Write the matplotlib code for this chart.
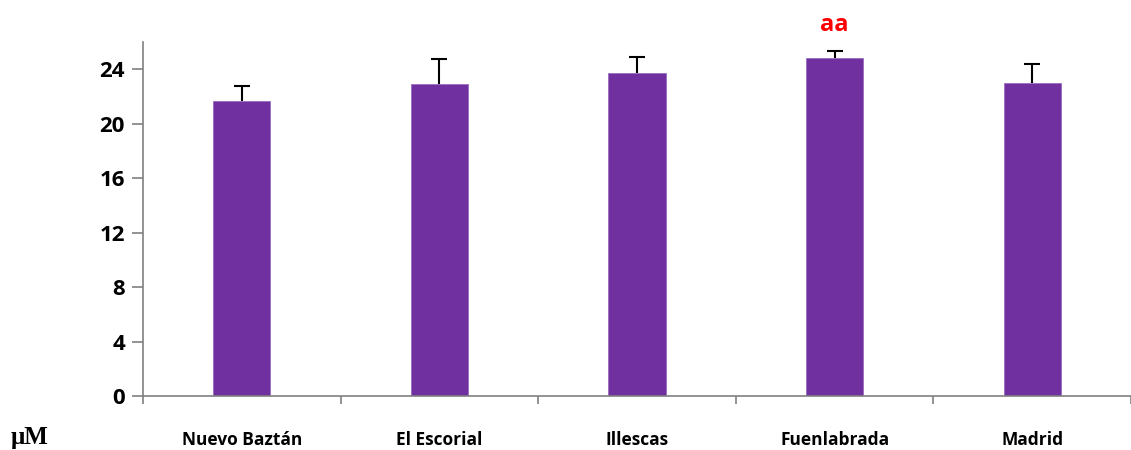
import matplotlib.pyplot as plt
import numpy as np

# datos por localidad
localidades = ['Nuevo Baztán', 'El Escorial', 'Illescas', 'Fuenlabrada', 'Madrid']
medias = [21.7, 22.95, 23.75, 24.8, 23.0]
errores = [1.1, 1.8, 1.15, 0.55, 1.4]
marcas = ['', '', '', 'aa', '']

plt.rcParams['font.family'] = ['Open Sans', 'DejaVu Sans']

fig = plt.figure(figsize=(11.31, 4.5), dpi=100)
ax = fig.add_axes([143 / 1131, 54 / 450, 988 / 1131, 354 / 450])

x = np.arange(len(localidades))
ax.bar(x, medias, width=0.29, color='#7030A0', edgecolor='#9a6cc0', linewidth=0.6, zorder=2)
_, caps, _ = ax.errorbar(x, medias, yerr=[np.zeros(len(errores)), errores], fmt='none',
                         ecolor='black', elinewidth=1.5, capsize=6, capthick=1.5, zorder=3)
# solo la barra de error superior
caps[0].set_visible(False)

# letras de significación sobre las barras
for xi, m, e, txt in zip(x, medias, errores, marcas):
    if txt:
        ax.text(xi, m + e + 1.0, txt, ha='center', va='bottom', color='#ff0000',
                fontsize=17, fontweight='bold', clip_on=False)

ax.set_xlim(-0.5, len(localidades) - 0.5)
ax.set_ylim(0, 26)
ax.set_yticks(range(0, 25, 4))
ax.tick_params(axis='y', labelsize=16, length=8, width=1.2, color='#808080', pad=5)
for lab in ax.get_yticklabels():
    lab.set_fontweight('bold')

# marcas del eje x entre categorías, etiquetas centradas
ax.set_xticks(np.arange(-0.5, len(localidades), 1.0))
ax.set_xticklabels([])
ax.set_xticks(x, minor=True)
ax.set_xticklabels(localidades, minor=True, fontsize=12.5, fontweight='bold')
ax.tick_params(axis='x', which='major', length=6, width=1.2, color='#808080')
ax.tick_params(axis='x', which='minor', length=0, pad=25)

for side in ['top', 'right']:
    ax.spines[side].set_visible(False)
for side in ['left', 'bottom']:
    ax.spines[side].set_color('#808080')
    ax.spines[side].set_linewidth(1.2)

fig.text(11 / 1131, 6 / 450, 'μM', family='Liberation Serif', fontsize=18,
         fontweight='bold', va='baseline', ha='left')

fig.savefig('out.png', dpi=100)
